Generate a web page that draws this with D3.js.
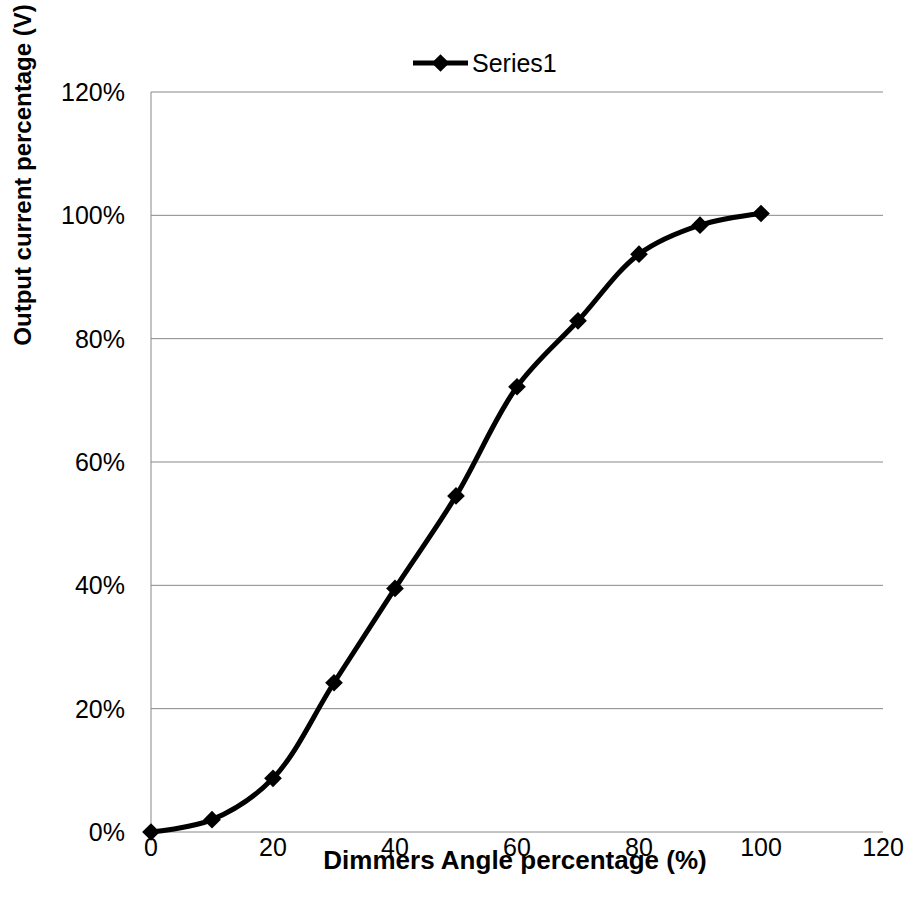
<!DOCTYPE html>
<html>
<head>
<meta charset="utf-8">
<script src="https://cdn.jsdelivr.net/npm/d3@7"></script>
<style>
  body { margin: 0; background: #fff; }
  text { font-family: "Liberation Sans", Arial, sans-serif; }
</style>
</head>
<body>
<div id="chart"></div>
<script>
// dimmer angle (%) vs output current (fraction)
const angles = [0, 10, 20, 30, 40, 50, 60, 70, 80, 90, 100];
const outputs = [0.0, 0.02, 0.087, 0.242, 0.395, 0.545, 0.722, 0.829, 0.937, 0.984, 1.003];
const xTicks = [0, 20, 40, 60, 80, 100, 120];
const yTicks = [0, 0.2, 0.4, 0.6, 0.8, 1.0, 1.2];
const seriesName = "Series1";

const width = 908, height = 903;
const margin = { top: 92, right: 25, bottom: 71, left: 151 };

const svg = d3.select("#chart")
  .append("svg")
  .attr("width", width)
  .attr("height", height);

const x = d3.scaleLinear()
  .domain([0, 120])
  .range([margin.left, width - margin.right]);

const y = d3.scaleLinear()
  .domain([0, 1.2])
  .range([height - margin.bottom, margin.top]);

// gridlines
svg.append("g")
  .selectAll("line")
  .data(yTicks)
  .enter()
  .append("line")
  .attr("x1", x(0))
  .attr("x2", x(120))
  .attr("y1", d => y(d))
  .attr("y2", d => y(d))
  .attr("stroke", "#888")
  .attr("stroke-width", 1);

// left axis line
svg.append("line")
  .attr("x1", x(0)).attr("x2", x(0))
  .attr("y1", y(0)).attr("y2", y(1.2))
  .attr("stroke", "#888");

// y tick labels
svg.append("g")
  .selectAll("text")
  .data(yTicks)
  .enter()
  .append("text")
  .attr("x", x(0) - 26)
  .attr("y", d => y(d) + 9)
  .attr("text-anchor", "end")
  .attr("font-size", 25)
  .text(d3.format(".0%"));

// x tick labels
svg.append("g")
  .selectAll("text")
  .data(xTicks)
  .enter()
  .append("text")
  .attr("x", d => x(d))
  .attr("y", y(0) + 24)
  .attr("text-anchor", "middle")
  .attr("font-size", 25)
  .text(d => d);

// axis titles
svg.append("text")
  .attr("x", 515)
  .attr("y", 869)
  .attr("text-anchor", "middle")
  .attr("font-size", 26)
  .attr("font-weight", "bold")
  .text("Dimmers Angle percentage (%)");

svg.append("text")
  .attr("transform", "translate(31,175) rotate(-90)")
  .attr("text-anchor", "middle")
  .attr("font-size", 24)
  .attr("font-weight", "bold")
  .text("Output current percentage (V)");

const data = angles.map((a, i) => ({ a: a, v: outputs[i] }));

const line = d3.line()
  .x(d => x(d.a))
  .y(d => y(d.v))
  .curve(d3.curveCatmullRom.alpha(0.5));

svg.append("path")
  .datum(data)
  .attr("d", line)
  .attr("fill", "none")
  .attr("stroke", "#000")
  .attr("stroke-width", 5);

const diamond = d3.symbol().type(d3.symbolDiamond2).size(200);

svg.append("g")
  .selectAll("path")
  .data(data)
  .enter()
  .append("path")
  .attr("d", diamond)
  .attr("transform", d => `translate(${x(d.a)},${y(d.v)})`)
  .attr("fill", "#000");

// legend
const lg = svg.append("g").attr("transform", "translate(413,63)");
lg.append("line")
  .attr("x1", 0).attr("x2", 55)
  .attr("y1", 0).attr("y2", 0)
  .attr("stroke", "#000")
  .attr("stroke-width", 5);
lg.append("path")
  .attr("d", diamond)
  .attr("transform", "translate(27.5,0)")
  .attr("fill", "#000");
lg.append("text")
  .attr("x", 59)
  .attr("y", 9)
  .attr("font-size", 25)
  .text(seriesName);
</script>
</body>
</html>
